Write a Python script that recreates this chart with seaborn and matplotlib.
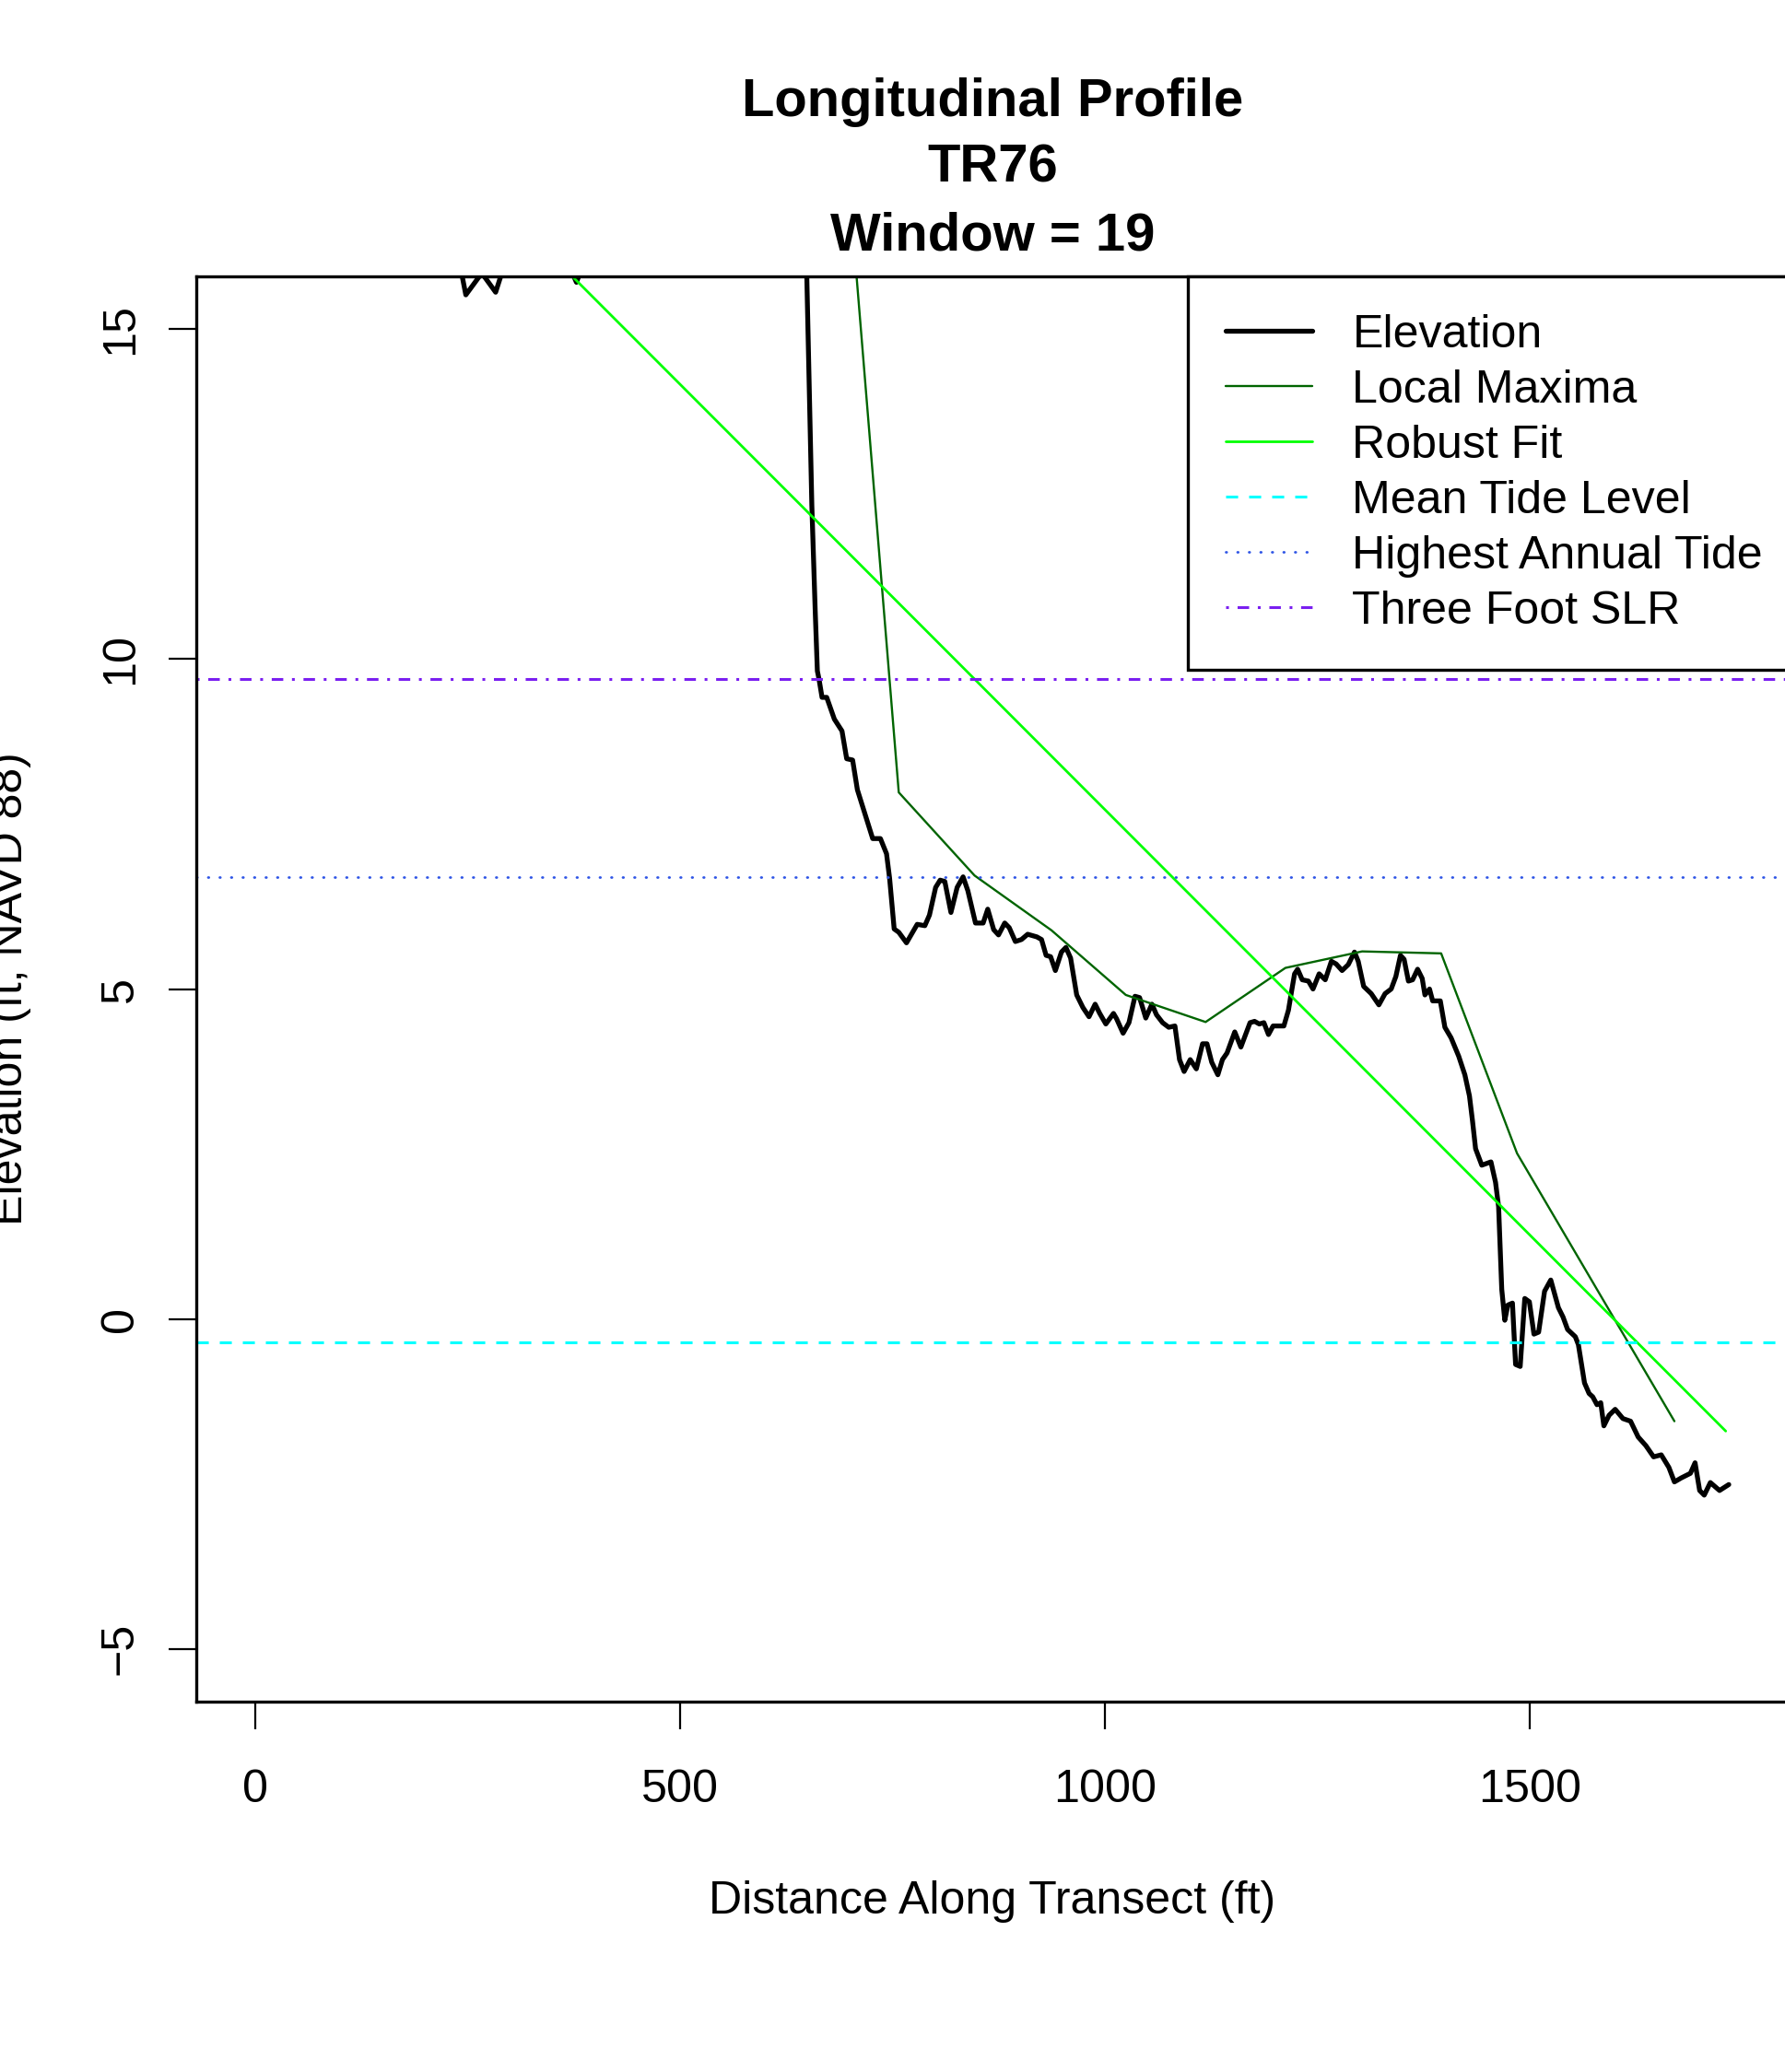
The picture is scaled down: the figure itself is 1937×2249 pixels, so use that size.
import matplotlib
matplotlib.use("Agg")
import matplotlib.pyplot as plt
import pandas as pd
import seaborn as sns

# --- data ---
dist_ft = [0, 20, 40, 60, 80, 100, 120, 140, 160, 180, 200, 220, 241.3, 247.8, 266.6, 282.9,
           292.6, 310, 330, 350, 368, 378, 385, 400, 430, 460, 490, 520, 550, 580, 610, 630,
           640, 646, 655, 659, 661.5, 663.4, 667, 672.5, 681.5, 690.5, 696, 703, 708.6, 717.6,
           726.6, 735.7, 742.9, 746.5, 751.9, 757.3, 766.4, 779, 788, 793.4, 800.7, 806, 811.5,
           818.7, 826, 833, 838.6, 847.6, 856.6, 862, 869, 874.7, 882, 887.3, 894.5, 901.7, 909,
           919.8, 925.3, 930.7, 936, 941.6, 948.7, 954, 959.5, 966.7, 974, 981.2, 988.4, 993.8,
           1001, 1010, 1013.6, 1021.3, 1028.2, 1035.3, 1040.7, 1048, 1055.2, 1060.6, 1067.8,
           1075, 1082.3, 1087.7, 1093.1, 1100.3, 1107.5, 1114.8, 1120, 1125.6, 1132.8, 1138.2,
           1143.6, 1152.7, 1159.9, 1170.7, 1176, 1181.6, 1187, 1192.4, 1197.8, 1203, 1210.5,
           1215.9, 1219.5, 1223.1, 1226.7, 1232.1, 1239.4, 1244.8, 1252, 1259.2, 1266.4, 1272,
           1279, 1286.3, 1293.6, 1298, 1304.4, 1313.3, 1322.3, 1329.6, 1336.8, 1342.3, 1347.7,
           1352, 1357.1, 1362, 1367.9, 1373.3, 1376.5, 1381.9, 1385.6, 1394.6, 1400, 1407.3,
           1416.3, 1423.5, 1428.9, 1432.5, 1436.1, 1443.4, 1454.2, 1459.6, 1463.2, 1466.9,
           1470.5, 1474.1, 1479.5, 1483.2, 1488.6, 1494, 1499.4, 1504.8, 1510.3, 1517.3, 1524.6,
           1533.6, 1539, 1544.4, 1553.5, 1557.1, 1564.3, 1569.7, 1574, 1579, 1583.4, 1587.1,
           1593.2, 1600.4, 1609.5, 1618.5, 1627.5, 1636.5, 1645.6, 1654.6, 1663.6, 1670.1,
           1678.1, 1688.9, 1694.4, 1699.8, 1705.2, 1712.4, 1723.2, 1734.1]
elev_ft = [19.0, 18.6, 18.2, 17.9, 17.6, 17.3, 17.0, 16.8, 16.6, 16.5, 16.4, 16.3, 15.95, 15.52,
           15.85, 15.56, 15.95, 16.4, 16.5, 16.3, 16.0, 15.71, 15.95, 16.6, 17.5, 18.4, 19.2,
           20.0, 20.8, 21.4, 21.9, 22.2, 22.0, 17.6, 12.33, 10.72, 9.82, 9.70, 9.42, 9.42, 9.09,
           8.91, 8.49, 8.47, 8.02, 7.65, 7.28, 7.28, 7.05, 6.68, 5.91, 5.86, 5.70, 5.98, 5.96,
           6.12, 6.54, 6.65, 6.63, 6.16, 6.54, 6.70, 6.49, 6.00, 6.00, 6.21, 5.90, 5.82, 6.00,
           5.93, 5.72, 5.75, 5.83, 5.79, 5.75, 5.51, 5.49, 5.28, 5.56, 5.63, 5.47, 4.91, 4.72,
           4.58, 4.77, 4.63, 4.47, 4.63, 4.55, 4.33, 4.49, 4.89, 4.87, 4.56, 4.77, 4.61, 4.49,
           4.42, 4.44, 3.93, 3.75, 3.93, 3.79, 4.17, 4.17, 3.89, 3.70, 3.93, 4.03, 4.35, 4.12,
           4.49, 4.51, 4.47, 4.49, 4.31, 4.44, 4.44, 4.44, 4.68, 4.96, 5.23, 5.30, 5.14, 5.12,
           5.00, 5.23, 5.14, 5.42, 5.38, 5.28, 5.37, 5.56, 5.42, 5.04, 4.93, 4.76, 4.93, 5.00,
           5.19, 5.51, 5.45, 5.12, 5.14, 5.30, 5.16, 4.91, 5.00, 4.82, 4.82, 4.42, 4.26, 3.98,
           3.70, 3.38, 3.00, 2.58, 2.33, 2.38, 2.07, 1.70, 0.45, -0.02, 0.21, 0.24, -0.69, -0.72,
           0.31, 0.26, -0.23, -0.20, 0.42, 0.59, 0.17, 0.03, -0.16, -0.27, -0.39, -0.97, -1.13,
           -1.18, -1.30, -1.27, -1.62, -1.46, -1.37, -1.51, -1.55, -1.79, -1.92, -2.09, -2.06,
           -2.25, -2.47, -2.41, -2.34, -2.18, -2.60, -2.67, -2.48, -2.60, -2.51]

locmax_dist = [37, 127, 217, 307, 397, 487, 577, 667, 757.3, 846.5, 937, 1024.5, 1118.4,
               1212.3, 1302.6, 1395.6, 1484.9, 1670.1]
locmax_elev = [19.0, 17.1, 16.3, 16.4, 16.6, 19.2, 21.4, 22.2, 7.98, 6.72, 5.89, 4.91, 4.50,
               5.32, 5.57, 5.54, 2.51, -1.55]

robust_dist = [0, 1730.5]
robust_elev = [20.61, -1.70]

mean_tide = -0.35
highest_annual_tide = 6.70
three_foot_slr = 9.70

x_ticks = [0, 500, 1000, 1500]
y_ticks = [-5, 0, 5, 10, 15]
legend_labels = ["Elevation", "Local Maxima", "Robust Fit", "Mean Tide Level",
                 "Highest Annual Tide", "Three Foot SLR"]
title_lines = ["Longitudinal Profile", "TR76", "Window = 19"]

assert len(dist_ft) == len(elev_ft)

profile = pd.DataFrame({"dist": dist_ft, "elev": elev_ft})
maxima = pd.DataFrame({"dist": locmax_dist, "elev": locmax_elev})
fit = pd.DataFrame({"dist": robust_dist, "elev": robust_elev})

sns.set_theme(style="ticks")
plt.rcParams["font.family"] = ["Liberation Sans", "DejaVu Sans"]
plt.rcParams["lines.scale_dashes"] = False

W, H = 1937, 2249
fig = plt.figure(figsize=(W / 100, H / 100), dpi=100)
# plot box in pixel terms: left 213, right ~1940 (just off the canvas), top 300, bottom 1847
ax = fig.add_axes([213 / W, 1 - 1847 / H, (1940 - 213) / W, (1847 - 300) / H])

base_fs = 36.1

sns.lineplot(data=profile, x="dist", y="elev", ax=ax, color="black", linewidth=3.8,
             estimator=None, sort=False, solid_capstyle="round")
sns.lineplot(data=maxima, x="dist", y="elev", ax=ax, color="#006400", linewidth=1.7,
             estimator=None, sort=False)
sns.lineplot(data=fit, x="dist", y="elev", ax=ax, color="#00FF00", linewidth=2.0,
             estimator=None, sort=False)
ax.axhline(mean_tide, color="#00FFFF", linewidth=2.2, dashes=(9.4, 8.6))
ax.axhline(highest_annual_tide, color="#2F55E6", linewidth=2.0, dashes=(0.5, 8.5),
           dash_capstyle="round")
ax.axhline(three_foot_slr, color="#7A1FF0", linewidth=2.2, dashes=(2.2, 6.8, 9.0, 6.8))

# R-style axis ranges (4% padding)
ax.set_xlim(-69.4, 1803.5)
ax.set_ylim(-5.8, 15.8)
ax.set_xticks(x_ticks)
ax.set_yticks(y_ticks)
ax.set_xticklabels([str(v) for v in x_ticks])
ax.set_yticklabels(["\u22125" if v < 0 else str(v) for v in y_ticks])

for side in ["left", "right", "top", "bottom"]:
    ax.spines[side].set_visible(True)
    ax.spines[side].set_linewidth(2.4)
    ax.spines[side].set_color("black")

ax.tick_params(axis="both", direction="out", length=21.6, width=1.6, color="black",
               labelsize=base_fs, labelcolor="black")
ax.tick_params(axis="x", pad=31.0, bottom=True, top=False)
ax.tick_params(axis="y", pad=21.0, left=True, right=False, labelrotation=90)
for lbl in ax.get_yticklabels():
    lbl.set_va("center")

ax.set_xlabel("Distance Along Transect (ft)", fontsize=base_fs, color="black")
ax.set_ylabel("Elevation (ft, NAVD 88)", fontsize=base_fs, color="black")
ax.xaxis.set_label_coords(0.5, -0.1255)
ax.yaxis.set_label_coords(-0.1036, 0.5)

# legend, anchored at its upper-left corner; its right side runs off the canvas
handles = ax.get_lines()[:6]
leg = ax.legend(handles, legend_labels, loc="upper left",
                bbox_to_anchor=(1289 / W, 1 - 300 / H), bbox_transform=fig.transFigure,
                borderaxespad=0, frameon=True, fancybox=False, framealpha=1,
                edgecolor="black", fontsize=base_fs, handlelength=1.88,
                handletextpad=0.87, labelspacing=0.28, borderpad=0.81)
leg.get_frame().set_linewidth(2.4)
for txt in leg.get_texts():
    txt.set_color("black")

# three-line bold title
for line, y_px in zip(title_lines, [126, 198, 271]):
    fig.text(1077 / W, 1 - y_px / H, line, ha="center", va="baseline",
             fontsize=41.8, fontweight="bold", color="black")

fig.savefig("out.png", dpi=100, facecolor="white")
